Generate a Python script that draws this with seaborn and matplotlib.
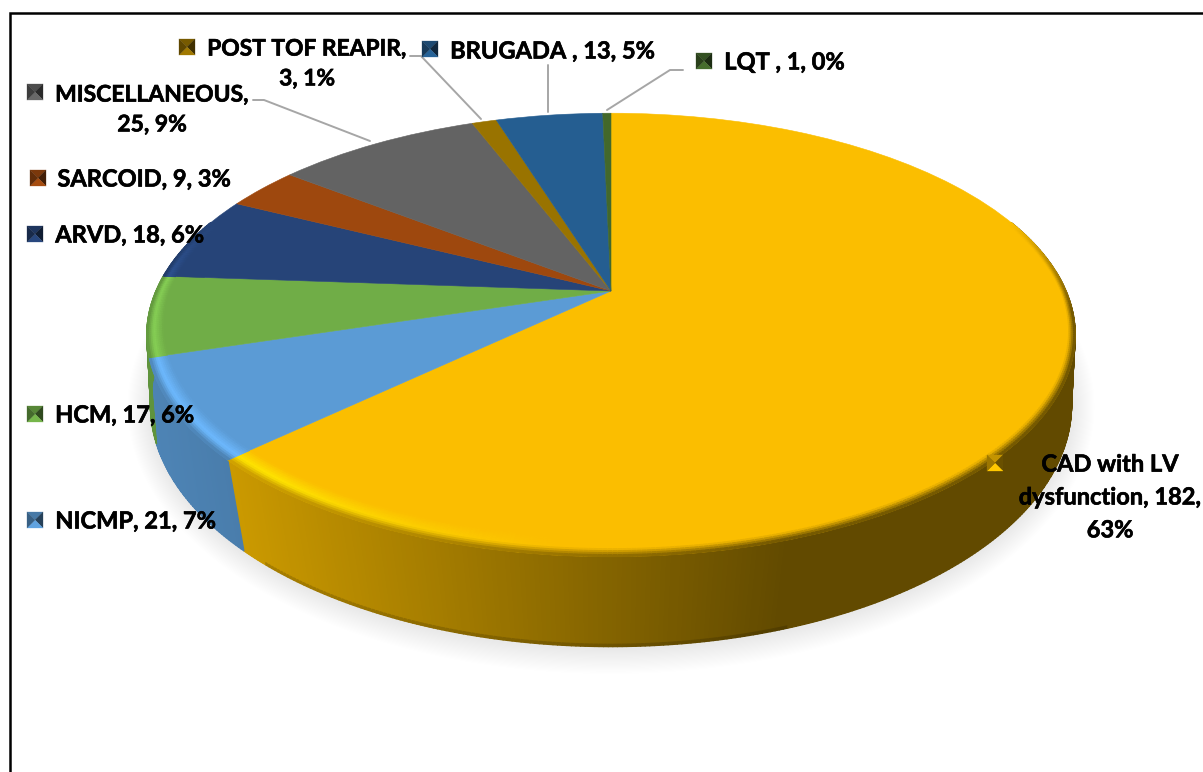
import numpy as np
import matplotlib
matplotlib.use("Agg")
import matplotlib.pyplot as plt
import matplotlib.patheffects as pe
from matplotlib.collections import PolyCollection
from matplotlib.transforms import Transform
import seaborn as sns

# Slices, clockwise from twelve o'clock
categories = ["CAD with LV\ndysfunction, 182,\n63%", "NICMP, 21, 7%", "HCM, 17, 6%", "ARVD, 18, 6%",
              "SARCOID, 9, 3%", "MISCELLANEOUS,\n25, 9%", "POST TOF REAPIR,\n3, 1%",
              "BRUGADA , 13, 5%", "LQT , 1, 0%"]
counts = [182, 21, 17, 18, 9, 25, 3, 13, 1]
slice_colors = ["#FBBE00", "#5B9BD5", "#70AD47", "#264478", "#9E480E",
                "#636363", "#997300", "#255E91", "#43682B"]

# Label anchor (centre x, centre y), font size and legend-key corner for each slice
label_xy = [(1110, 497), (135.5, 521), (124.5, 415), (129.5, 235), (144, 179),
            (152, 110), (307, 64), (552.5, 51), (784.5, 62)]
label_size = [17, 17, 17, 17, 17, 16.5, 16.4, 17, 17]
key_xy = [(987, 455), (27, 512), (27, 406), (27, 226), (30, 170),
          (27, 84), (179, 39), (422, 41), (696, 53)]
leaders = [([253, 264, 370], [100, 100, 141]),
           ([410, 421, 481], [56, 56, 119]),
           ([548, 548], [65, 112]),
           ([683, 670, 607], [70, 70, 110])]

W, H = 1203, 772
CX, CY = 611, 291
TOP = dict(a=455.0, b=213.0, k=0.198, y0=CY)
BASE = dict(a=456.0, b=237.0, k=0.14, y0=371.0)


def project(X, Y, g):
    d = 1 + g["k"] * Y
    return CX + g["a"] * X / d, g["y0"] - g["b"] * Y / d


class TiltTransform(Transform):
    """Maps the unit disc onto the tilted top face of the pie."""
    input_dims = output_dims = 2

    def transform_non_affine(self, values):
        v = np.asarray(values, dtype=float)
        x, y = project(v[:, 0], v[:, 1], TOP)
        return np.column_stack([x, y])


def mix(c1, c2, t):
    return np.asarray(c1) * (1 - t) + np.asarray(c2) * t


def wall_shade(x):
    return np.interp(x, [150, 240, 790], [0.85, 0.80, 0.39])


sns.set_theme(style="white")
plt.rcParams["font.family"] = ["Lato", "DejaVu Sans"]
palette = sns.color_palette(slice_colors)

fig = plt.figure(figsize=(W / 100, H / 100), dpi=100, facecolor="white")
ax = fig.add_axes([0, 0, 1, 1])

wedges, _ = ax.pie(counts, colors=palette, startangle=90, counterclock=False, radius=1,
                   wedgeprops=dict(linewidth=0.4))
tilt = TiltTransform()
for w, c in zip(wedges, palette):
    w.set_transform(tilt + ax.transData)
    w.set_edgecolor(c)
    w.set_zorder(4)

ax.set_aspect("auto")
ax.set_xlim(0, W)
ax.set_ylim(H, 0)
ax.axis("off")

# Soft shadow beneath the base
phi_all = np.radians(np.linspace(0, 360, 241))
bx, by = project(np.cos(phi_all), np.sin(phi_all), BASE)
n_shadow = 22
for i in range(n_shadow, 0, -1):
    e = i / n_shadow
    sx = CX + (bx - CX) * (1 + 0.05 * e)
    sy = 405 + (by - 405) * (1 + 0.105 * e) + 2
    ax.fill(sx, sy, color="black", alpha=0.0058, lw=0, zorder=1)

# Side wall and rim bevel, in fine strips along the visible arc
wall_polys, wall_cols, bevel_polys, bevel_cols = [], [], [], []
for w, c in zip(wedges, palette):
    lo, hi = max(w.theta1, -200.0), min(w.theta2, 20.0)
    if hi <= lo:
        continue
    n = max(int(np.ceil((hi - lo) * 2)), 1)
    edges = np.radians(np.linspace(lo, hi, n + 1))
    for p0, p1 in zip(edges[:-1], edges[1:]):
        tx0, ty0 = project(np.cos(p0), np.sin(p0), TOP)
        tx1, ty1 = project(np.cos(p1), np.sin(p1), TOP)
        qx0, qy0 = project(np.cos(p0), np.sin(p0), BASE)
        qx1, qy1 = project(np.cos(p1), np.sin(p1), BASE)
        xm = (tx0 + tx1) / 2
        shade = wall_shade(xm)
        wall_c = np.asarray(c) * shade
        # Main wall, then a thin darker line along the lower edge of the front
        f = 0.975
        mx0, my0 = tx0 + (qx0 - tx0) * f, ty0 + (qy0 - ty0) * f
        mx1, my1 = tx1 + (qx1 - tx1) * f, ty1 + (qy1 - ty1) * f
        wall_polys.append([(tx0, ty0), (tx1, ty1), (mx1, my1), (mx0, my0)])
        wall_cols.append(wall_c)
        edge_dark = 0.84 if 250 < xm < 800 else 1.0
        wall_polys.append([(mx0, my0), (mx1, my1), (qx1, qy1), (qx0, qy0)])
        wall_cols.append(wall_c * edge_dark)

        # Bevel on the top face: bright on the left front, dark on the right
        pm = np.degrees((p0 + p1) / 2)
        width = 0.028 + 0.032 * max(0.0, -np.sin((p0 + p1) / 2))
        light = np.clip((-95 - pm) / 35, 0, 1)
        fade = np.clip((pm + 200) / 15, 0, 1) * np.clip((20 - pm) / 25, 0, 1)
        peak = mix(c, np.clip(np.asarray(c) * 1.2, 0, 1), light)
        steps = np.linspace(0, 1, 11)
        for t0, t1 in zip(steps[:-1], steps[1:]):
            r0, r1 = 1 - width * (1 - t0), 1 - width * (1 - t1)
            a0 = project(r0 * np.cos(p0), r0 * np.sin(p0), TOP)
            a1 = project(r0 * np.cos(p1), r0 * np.sin(p1), TOP)
            b1 = project(r1 * np.cos(p1), r1 * np.sin(p1), TOP)
            b0 = project(r1 * np.cos(p0), r1 * np.sin(p0), TOP)
            t = (t0 + t1) / 2
            if t < 0.6:
                col = mix(c, peak, t / 0.6)
            else:
                col = mix(peak, wall_c, (t - 0.6) / 0.4)
            bevel_polys.append([a0, a1, b1, b0])
            bevel_cols.append(mix(c, col, fade))

ax.add_collection(PolyCollection(wall_polys, facecolors=wall_cols, edgecolors=wall_cols,
                                 linewidths=1.0, zorder=2))
ax.add_collection(PolyCollection(bevel_polys, facecolors=bevel_cols, edgecolors=bevel_cols,
                                 linewidths=0.8, zorder=5))

# Leader lines
for lx, ly in leaders:
    ax.plot(lx, ly, color="#A6A6A6", lw=1.4, zorder=6, solid_joinstyle="miter")

# Bevelled legend keys and data labels
KEY = 16
for (kx, ky), c in zip(key_xy, palette):
    mx, my = kx + KEY / 2, ky + KEY / 2
    corners = [(kx, ky), (kx + KEY, ky), (kx + KEY, ky + KEY), (kx, ky + KEY)]
    tris, cols = [], []
    for i, f in enumerate([0.78, 0.42, 1.05, 0.62]):
        tris.append([corners[i], corners[(i + 1) % 4], (mx, my)])
        cols.append(np.clip(np.asarray(c) * f, 0, 1))
    ax.add_collection(PolyCollection(tris, facecolors=cols, edgecolors=cols,
                                     linewidths=0.2, zorder=7))

for (tx, ty), label, size in zip(label_xy, categories, label_size):
    ax.text(tx, ty, label, ha="center", va="center", multialignment="center",
            fontsize=size, fontweight="bold", color="black", linespacing=1.52,
            zorder=8, clip_on=False,
            path_effects=[pe.withStroke(linewidth=0.45, foreground="black")])

# Partial chart-area frame along the top and left
ax.plot([10, 10, W], [H, 12.5, 12.5], color="black", lw=1.8, zorder=9,
        solid_joinstyle="miter")

fig.savefig("out.png", dpi=100, facecolor="white")
